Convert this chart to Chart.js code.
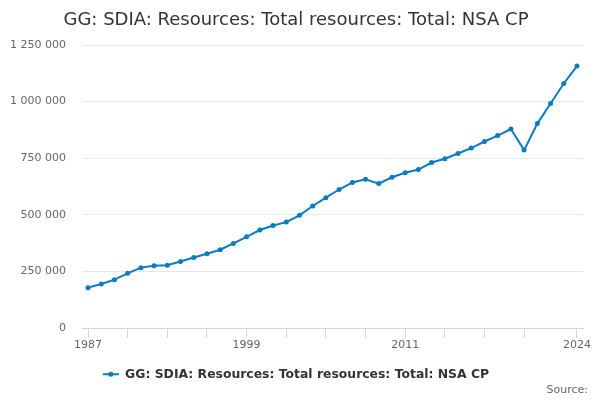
<!DOCTYPE html>
<html>
<head>
<meta charset="utf-8">
<script src="https://cdn.jsdelivr.net/npm/chart.js@4.4.1/dist/chart.umd.min.js"></script>
<style>
html,body{margin:0;padding:0;background:#fff;}
#wrap{width:600px;height:400px;position:relative;}
</style>
</head>
<body>
<div id="wrap"><canvas id="c"></canvas></div>
<script>
const titleText = "GG: SDIA: Resources: Total resources: Total: NSA CP";
const seriesName = "GG: SDIA: Resources: Total resources: Total: NSA CP";
const sourceText = "Source:";
const years = [1987,1988,1989,1990,1991,1992,1993,1994,1995,1996,1997,1998,1999,2000,2001,2002,2003,2004,2005,2006,2007,2008,2009,2010,2011,2012,2013,2014,2015,2016,2017,2018,2019,2020,2021,2022,2023,2024];
const values = [178600,195000,214000,242000,267000,275000,278000,294000,312000,328000,346000,374000,403000,433000,453000,468000,498000,539000,576000,612000,643000,657000,638000,666000,686000,700000,731000,748000,771000,795000,824000,850000,879000,786000,903000,992000,1080000,1157000];
const xTickValues = [1987,1990,1993,1996,1999,2002,2005,2008,2011,2014,2017,2020,2024];
const xLabelValues = [1987,1999,2011,2024];
const yTickValues = [0,250000,500000,750000,1000000,1250000];

const lineColor = '#0b7bc2';
const fontFamily = '"DejaVu Sans", sans-serif';

const points = years.map((y,i)=>({x:y, y:values[i]}));

const extras = {
  id:'extras',
  afterDraw(chart){
    const ctx = chart.ctx;
    const lg = chart.legend;
    if (lg && lg.legendHitBoxes && lg.legendHitBoxes.length){
      const hb = lg.legendHitBoxes[0];
      const bw = lg.options.labels.boxWidth;
      ctx.save();
      ctx.fillStyle = lineColor;
      ctx.beginPath();
      ctx.arc(hb.left + bw/2, hb.top + hb.height/2, 2.5, 0, Math.PI*2);
      ctx.fill();
      ctx.restore();
    }
    ctx.save();
    ctx.font = '11px ' + fontFamily;
    ctx.fillStyle = '#666666';
    ctx.textAlign = 'right';
    ctx.textBaseline = 'middle';
    ctx.fillText(sourceText, 588, 390);
    ctx.restore();
  }
};

new Chart(document.getElementById('c'), {
  type:'line',
  data:{
    datasets:[{
      label: seriesName,
      data: points,
      borderColor: lineColor,
      backgroundColor: lineColor,
      borderWidth: 2,
      pointRadius: 2.5,
      pointHoverRadius: 3,
      pointBackgroundColor: lineColor,
      pointBorderWidth: 0,
      tension: 0,
      fill: false
    }]
  },
  options:{
    responsive:true,
    maintainAspectRatio:false,
    animation:false,
    layout:{padding:{left:0,right:8,top:0,bottom:9.5}},
    plugins:{
      title:{
        display:true,
        text:titleText,
        color:'#333333',
        font:{family:fontFamily,size:18,weight:'normal'},
        padding:{top:10,bottom:13.4}
      },
      legend:{
        display:true,
        position:'bottom',
        labels:{
          color:'#333333',
          font:{family:fontFamily,size:12.4,weight:'bold'},
          boxWidth:16,
          boxHeight:2,
          padding:4,
          generateLabels(chart){
            const items = Chart.defaults.plugins.legend.labels.generateLabels(chart);
            items.forEach(it=>{ it.lineWidth = 0; it.strokeStyle = 'rgba(0,0,0,0)'; });
            return items;
          }
        }
      },
      tooltip:{enabled:false}
    },
    scales:{
      x:{
        type:'linear',
        min:1986.545,
        max:2024.455,
        afterBuildTicks(scale){ scale.ticks = xTickValues.map(v=>({value:v})); },
        afterFit(scale){ scale.height = 36; scale.paddingLeft = 0; scale.paddingRight = 17; },
        ticks:{
          autoSkip:false,
          maxRotation:0,
          padding:0,
          color:'#666666',
          font:{family:fontFamily,size:11},
          callback(v){ return xLabelValues.includes(v) ? String(v) : ''; }
        },
        grid:{
          drawOnChartArea:false,
          drawTicks:true,
          tickLength:10,
          color:'#ccd6eb',
          lineWidth:1
        },
        border:{display:true,color:'#ccd6eb',width:1}
      },
      y:{
        min:0,
        max:1250000,
        afterBuildTicks(scale){ scale.ticks = yTickValues.map(v=>({value:v})); },
        afterFit(scale){ scale.width = 82; scale.paddingTop = 0; scale.paddingBottom = 0; },
        ticks:{
          padding:16,
          color:'#666666',
          font:{family:fontFamily,size:11},
          callback(v){ return String(v).replace(/\B(?=(\d{3})+(?!\d))/g,' '); }
        },
        grid:{
          drawTicks:false,
          color:'#e6e6e6',
          lineWidth:1
        },
        border:{display:false}
      }
    }
  },
  plugins:[extras]
});
</script>
</body>
</html>
